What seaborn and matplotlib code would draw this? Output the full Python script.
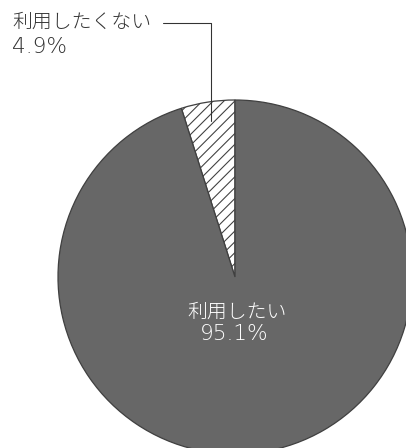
import matplotlib
matplotlib.use("Agg")
import matplotlib.pyplot as plt
import seaborn as sns

labels = ["利用したくない", "利用したい"]
values = [4.9, 95.1]
pct_labels = ["4.9%", "95.1%"]

sns.set_theme(style="white")
plt.rcParams['font.family'] = ['Noto Sans CJK JP', 'DejaVu Sans']
plt.rcParams['hatch.linewidth'] = 0.6
plt.rcParams['hatch.color'] = '#404040'

DPI = 130
W, H = 406, 448
fig = plt.figure(figsize=(W / DPI, H / DPI), dpi=DPI)
ax = fig.add_axes([0, 0, 1, 1])

cx, cy, r = 235, 277, 177
def dx(px):
    return (px - cx) / r
def dy(py):
    return (cy - py) / r

wedges, _ = ax.pie(values, startangle=90, counterclock=True, radius=1,
                   colors=["white", "#676767"],
                   wedgeprops=dict(edgecolor="#404040", linewidth=0.7))
wedges[0].set_hatch("////")

ax.set_xlim(dx(0), dx(W))
ax.set_ylim(dy(H), dy(0))
ax.set_aspect("equal")
ax.axis("off")

cjkfont = dict(family=['Noto Sans CJK JP', 'DejaVu Sans'], fontsize=11, weight='light')
numfont = dict(family=['DejaVu Sans', 'Noto Sans CJK JP'], fontsize=12, weight='light')
ax.text(dx(12), dy(22), labels[0], ha="left", va="center", color="#333333", **cjkfont)
ax.text(dx(12), dy(47), pct_labels[0], ha="left", va="center", color="#333333", **numfont)
ax.plot([dx(163), dx(211), dx(211)], [dy(23), dy(23), dy(121)], color="#333333", lw=0.6)

ax.text(dx(237), dy(312), labels[1], ha="center", va="center", color="white", **cjkfont)
ax.text(dx(234), dy(334), pct_labels[1], ha="center", va="center", color="white", **numfont)

fig.savefig("out.png", dpi=DPI)
